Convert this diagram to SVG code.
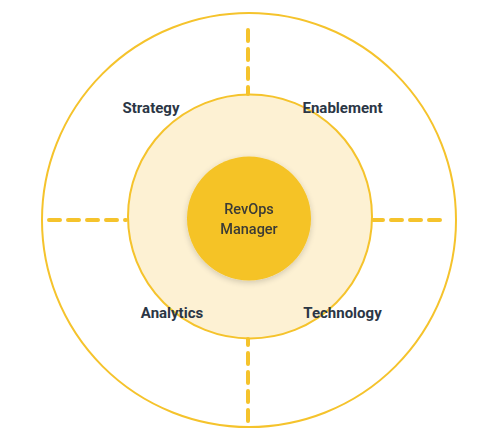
<svg xmlns="http://www.w3.org/2000/svg" width="486" height="444" viewBox="0 0 486 444">
<style>
.ring{fill:none;stroke:#F5C32C;stroke-width:2}
.dash{stroke:#F5C32C;stroke-width:4;stroke-linecap:round;stroke-dasharray:11 8;fill:none}
.lbl{font-family:Roboto,"Liberation Sans",sans-serif;font-weight:700;font-size:15px;fill:#2B3645;text-anchor:middle}
.core{font-family:Roboto,"Liberation Sans",sans-serif;font-weight:500;font-size:14.5px;fill:#3A3A36;text-anchor:middle}
</style>
<defs>
<filter id="sh" x="-30%" y="-30%" width="160%" height="160%">
<feGaussianBlur in="SourceAlpha" stdDeviation="3"/>
<feOffset dy="2"/>
<feComponentTransfer><feFuncA type="linear" slope="0.18"/></feComponentTransfer>
<feMerge><feMergeNode/><feMergeNode in="SourceGraphic"/></feMerge>
</filter>
</defs>
<rect width="486" height="444" fill="#FFFFFF"/>
<g id="outer-ring"><circle class="ring" cx="249" cy="220" r="207"/></g>
<g id="inner-ring"><circle cx="250" cy="216.5" r="122" fill="#FDF1D3" stroke="#F5C32C" stroke-width="2"/></g>
<g id="connectors">
<line class="dash" x1="49" y1="220" x2="126" y2="220"/>
<line class="dash" x1="440" y1="220" x2="373" y2="220"/>
<line class="dash" x1="248" y1="30" x2="248" y2="94"/>
<line class="dash" x1="248" y1="421" x2="248" y2="339"/>
</g>
<g id="center" filter="url(#sh)">
<circle cx="249" cy="218.5" r="62" fill="#F5C325"/>
<text class="core" x="249" y="214">RevOps</text>
<text class="core" x="249" y="234">Manager</text>
</g>
<g id="strategy"><text class="lbl" x="151" y="112.5">Strategy</text></g>
<g id="enablement"><text class="lbl" x="342.5" y="112.5">Enablement</text></g>
<g id="analytics"><text class="lbl" x="172" y="317.5">Analytics</text></g>
<g id="technology"><text class="lbl" x="342.5" y="317.5">Technology</text></g>
</svg>
